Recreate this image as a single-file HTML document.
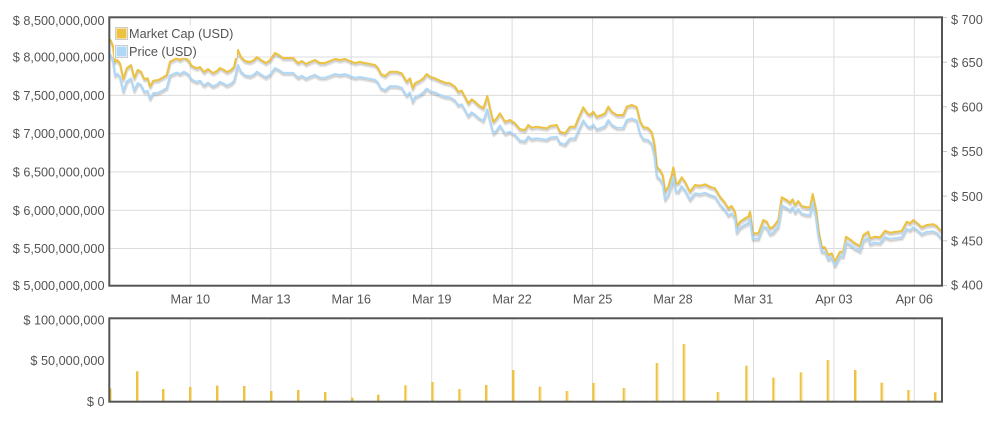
<!DOCTYPE html>
<html>
<head>
<meta charset="utf-8">
<style>
html,body{margin:0;padding:0;background:#fff;}
svg{display:block;}
text{font-family:"Liberation Sans",Arial,sans-serif;font-size:12.7px;fill:#545454;}
</style>
</head>
<body>
<svg width="999" height="425" viewBox="0 0 999 425" xmlns="http://www.w3.org/2000/svg">
<defs>
<clipPath id="pc"><rect x="110" y="18.3" width="831" height="266.4"/></clipPath>
<path id="g" d="M109.3,38.5 L111,41 L113,46 L115,61.7 L117.3,60 L120,63.3 L123.3,79 L126.7,68.3 L131,65 L134.3,78 L137.7,70 L141,71.7 L144.3,79 L147.7,78.3 L150,86.5 L153.3,80.7 L158.3,80 L163.3,77.3 L166.7,75 L170,61.7 L173.3,60 L176.7,58.3 L180,60 L184,57.5 L188,60 L192,66 L196.7,68.3 L200,67 L204,72 L208,69 L213,73 L217,71 L220,68 L224,70 L227,72 L231,70 L234,67 L238,50 L241,57 L245,61 L250,62 L254,60 L257,57 L261,60 L266,63 L270,60 L275,53 L279,55 L283,58 L288,58 L293,58 L298,63 L302,61 L306,64 L310,62 L315,60 L320,63 L325,63 L330,61 L335,59 L340,60 L345,59 L350,61 L355,63 L360,62 L365,63 L370,64 L375,65 L378,68 L381,74 L385,76 L390,71.7 L396.7,71.7 L401.7,73.3 L406.7,81.7 L410,78.3 L412.7,88.3 L415,83.3 L420,80.7 L423.3,78.3 L426.7,74 L430,76.7 L435,78.3 L440,80.7 L445,82.7 L450,83.3 L455,86.7 L458.3,91.7 L461.7,90.7 L465,96.7 L468.3,103.3 L471.7,99.3 L475,101.7 L478.3,105 L483.3,108.3 L487.3,96 L490,108.3 L493.3,121.7 L496.7,118.3 L500,113.3 L505,121.7 L510,120 L515,123.3 L520,129.3 L525,130 L528.3,125 L531.7,127.7 L536.7,126.7 L543.3,127.7 L546.7,128.3 L550,126 L556.7,125 L560,131.7 L565,133.3 L570,126.7 L575,126.7 L578.3,118.3 L583.3,107.3 L587.3,113.3 L590,115 L593.3,111.7 L596.7,116.7 L601.7,115 L605,113.3 L608.3,106.7 L611.7,111.7 L616.7,115 L623.3,115 L626.7,106.7 L631.7,105 L636.7,107 L640,121 L643.3,127 L648,128 L651.7,132 L654.5,145 L656.7,166.7 L660,170 L662.7,175 L665,191.7 L668.3,186.7 L671.7,175 L673.3,167.3 L676,183.3 L678.3,183.3 L681.7,177.3 L685,181.7 L690,191.7 L695,185 L700,185.7 L705,184.3 L710,186.7 L715,188.3 L720,196.7 L725,202.7 L728.3,208.3 L731.7,206 L735,211.7 L736.7,226.7 L740,221.7 L745,218.3 L748.3,216.7 L750,211.7 L752.7,233.3 L755,233.3 L758.3,233.3 L763.3,220 L766.7,221.7 L770,228.3 L773.3,226.7 L778.3,220 L781.7,197.3 L786.7,200 L790,202.7 L792.7,199.3 L795,205 L798.3,201 L801.7,206 L806.7,207.3 L810,207.3 L812.7,194 L816,210 L818.3,230 L821.7,246.7 L825,247.3 L828.3,255 L831.7,253.3 L835,261.7 L837.3,256.7 L840,251.7 L843.3,251.7 L846,236.7 L850,239.3 L855,243.3 L860,246 L863.3,235 L868.3,231.7 L870,238.3 L875,236.7 L880,237.3 L885,230.7 L890,232.7 L896.7,231.7 L901.7,231 L906.7,221.7 L910,223.3 L913.3,220 L918.3,224 L921.7,227.3 L926.7,225 L933.3,224.3 L936.7,226 L939.3,229 L941,231" fill="none" stroke-linejoin="round"/>
</defs>

<!-- main grid -->
<g stroke="#dcdcdc" stroke-width="1">
  <line x1="110" y1="57" x2="941" y2="57"/>
  <line x1="110" y1="95.4" x2="941" y2="95.4"/>
  <line x1="110" y1="133.6" x2="941" y2="133.6"/>
  <line x1="110" y1="171.9" x2="941" y2="171.9"/>
  <line x1="110" y1="210.2" x2="941" y2="210.2"/>
  <line x1="110" y1="248.5" x2="941" y2="248.5"/>
  <line x1="190.3" y1="18" x2="190.3" y2="285"/>
  <line x1="270.8" y1="18" x2="270.8" y2="285"/>
  <line x1="351.2" y1="18" x2="351.2" y2="285"/>
  <line x1="431.7" y1="18" x2="431.7" y2="285"/>
  <line x1="512.1" y1="18" x2="512.1" y2="285"/>
  <line x1="592.6" y1="18" x2="592.6" y2="285"/>
  <line x1="673" y1="18" x2="673" y2="285"/>
  <line x1="753.5" y1="18" x2="753.5" y2="285"/>
  <line x1="833.9" y1="18" x2="833.9" y2="285"/>
  <line x1="914.3" y1="18" x2="914.3" y2="285"/>
  <!-- volume grid -->
  <line x1="190.3" y1="319" x2="190.3" y2="401"/>
  <line x1="270.8" y1="319" x2="270.8" y2="401"/>
  <line x1="351.2" y1="319" x2="351.2" y2="401"/>
  <line x1="431.7" y1="319" x2="431.7" y2="401"/>
  <line x1="512.1" y1="319" x2="512.1" y2="401"/>
  <line x1="592.6" y1="319" x2="592.6" y2="401"/>
  <line x1="673" y1="319" x2="673" y2="401"/>
  <line x1="753.5" y1="319" x2="753.5" y2="401"/>
  <line x1="833.9" y1="319" x2="833.9" y2="401"/>
  <line x1="914.3" y1="319" x2="914.3" y2="401"/>
</g>
<!-- right ticks -->
<g stroke="#c8c8c8" stroke-width="1">
  <line x1="943" y1="17.5" x2="947" y2="17.5"/>
  <line x1="943" y1="62.2" x2="947" y2="62.2"/>
  <line x1="943" y1="106.8" x2="947" y2="106.8"/>
  <line x1="943" y1="151.5" x2="947" y2="151.5"/>
  <line x1="943" y1="196.2" x2="947" y2="196.2"/>
  <line x1="943" y1="240.8" x2="947" y2="240.8"/>
  <line x1="943" y1="285.5" x2="947" y2="285.5"/>
</g>

<!-- series -->
<g clip-path="url(#pc)">
  <g transform="translate(0.43,2.46)"><use href="#g" stroke="rgba(0,0,0,0.1)" stroke-width="3"/></g>
  <g transform="translate(0.3,1.72)"><use href="#g" stroke="rgba(0,0,0,0.1)" stroke-width="1.5"/></g>
  <use href="#g" stroke="#edc240" stroke-width="2"/>
  <g transform="translate(0.43,2.46)"><g transform="matrix(1,0.00569,0,0.931,0,17.14)"><path d="" /><use href="#g" stroke="rgba(0,0,0,0.1)" stroke-width="3" vector-effect="non-scaling-stroke"/></g></g>
  <g transform="translate(0.3,1.72)"><g transform="matrix(1,0.00569,0,0.931,0,17.14)"><use href="#g" stroke="rgba(0,0,0,0.1)" stroke-width="1.5" vector-effect="non-scaling-stroke"/></g></g>
  <g transform="matrix(1,0.00569,0,0.931,0,17.14)"><use href="#g" stroke="#afd8f8" stroke-width="2" vector-effect="non-scaling-stroke"/></g>
</g>

<!-- volume bars -->
<g>
  <g fill="#edc240">
    <rect x="109" y="388.3" width="2" height="13"/>
    <rect x="136" y="371.3" width="2" height="30"/>
    <rect x="162" y="389" width="2" height="12"/>
    <rect x="189" y="387" width="2" height="14"/>
    <rect x="216" y="385.7" width="2" height="15.3"/>
    <rect x="243" y="386" width="2" height="15"/>
    <rect x="270" y="391" width="2" height="10"/>
    <rect x="297" y="390" width="2" height="11"/>
    <rect x="324" y="392" width="2" height="9"/>
    <rect x="351" y="397.7" width="2" height="3.3"/>
    <rect x="377" y="394.7" width="2" height="6.3"/>
    <rect x="404.3" y="385.3" width="2" height="15.7"/>
    <rect x="431.3" y="382" width="2" height="19"/>
    <rect x="458.3" y="389" width="2" height="12"/>
    <rect x="485" y="385" width="2" height="16"/>
    <rect x="512" y="370" width="2" height="31"/>
    <rect x="538.7" y="386.7" width="2" height="14.3"/>
    <rect x="565.7" y="391" width="2" height="10"/>
    <rect x="592.3" y="383" width="2" height="18"/>
    <rect x="622.7" y="388" width="2" height="13"/>
    <rect x="655.7" y="363" width="2" height="38"/>
    <rect x="682.7" y="344" width="2" height="57"/>
    <rect x="716.7" y="392" width="2" height="9"/>
    <rect x="745.3" y="365.7" width="2" height="35.3"/>
    <rect x="772.3" y="377.7" width="2" height="23.3"/>
    <rect x="799.7" y="372.3" width="2" height="28.7"/>
    <rect x="826.7" y="360" width="2" height="41"/>
    <rect x="854" y="370" width="2" height="31"/>
    <rect x="880.5" y="382.7" width="2" height="18.3"/>
    <rect x="907.3" y="390" width="2" height="11"/>
    <rect x="934" y="392.3" width="2" height="8.7"/>
  </g>
  <g fill="#f7e3a3">
    <rect x="111" y="388.3" width="1" height="13"/>
    <rect x="138" y="371.3" width="1" height="30"/>
    <rect x="164" y="389" width="1" height="12"/>
    <rect x="191" y="387" width="1" height="14"/>
    <rect x="218" y="385.7" width="1" height="15.3"/>
    <rect x="245" y="386" width="1" height="15"/>
    <rect x="272" y="391" width="1" height="10"/>
    <rect x="299" y="390" width="1" height="11"/>
    <rect x="326" y="392" width="1" height="9"/>
    <rect x="353" y="397.7" width="1" height="3.3"/>
    <rect x="379" y="394.7" width="1" height="6.3"/>
    <rect x="406.3" y="385.3" width="1" height="15.7"/>
    <rect x="433.3" y="382" width="1" height="19"/>
    <rect x="460.3" y="389" width="1" height="12"/>
    <rect x="487" y="385" width="1" height="16"/>
    <rect x="514" y="370" width="1" height="31"/>
    <rect x="540.7" y="386.7" width="1" height="14.3"/>
    <rect x="567.7" y="391" width="1" height="10"/>
    <rect x="594.3" y="383" width="1" height="18"/>
    <rect x="624.7" y="388" width="1" height="13"/>
    <rect x="657.7" y="363" width="1" height="38"/>
    <rect x="684.7" y="344" width="1" height="57"/>
    <rect x="718.7" y="392" width="1" height="9"/>
    <rect x="747.3" y="365.7" width="1" height="35.3"/>
    <rect x="774.3" y="377.7" width="1" height="23.3"/>
    <rect x="801.7" y="372.3" width="1" height="28.7"/>
    <rect x="828.7" y="360" width="1" height="41"/>
    <rect x="856" y="370" width="1" height="31"/>
    <rect x="882.5" y="382.7" width="1" height="18.3"/>
    <rect x="909.3" y="390" width="1" height="11"/>
    <rect x="936" y="392.3" width="1" height="8.7"/>
  </g>
</g>

<!-- borders -->
<rect x="109.3" y="17.3" width="832.7" height="268.4" fill="none" stroke="#545454" stroke-width="2"/>
<rect x="109.3" y="318.3" width="832.7" height="83.4" fill="none" stroke="#545454" stroke-width="2"/>

<!-- legend -->
<rect x="114" y="25" width="123" height="33" fill="rgba(255,255,255,0.85)"/>
<rect x="115.5" y="27.5" width="12" height="12" fill="#fff" stroke="#cccccc" stroke-width="1"/>
<rect x="116.5" y="28.5" width="10" height="10" fill="#edc240"/>
<rect x="115.5" y="45.5" width="12" height="12" fill="#fff" stroke="#cccccc" stroke-width="1"/>
<rect x="116.5" y="46.5" width="10" height="10" fill="#afd8f8"/>
<text x="129" y="37.8">Market Cap (USD)</text>
<text x="129" y="55.8">Price (USD)</text>

<!-- left axis labels -->
<g text-anchor="end">
  <text x="104.5" y="25.1">$ 8,500,000,000</text>
  <text x="104.5" y="61.7">$ 8,000,000,000</text>
  <text x="104.5" y="99.9">$ 7,500,000,000</text>
  <text x="104.5" y="138.2">$ 7,000,000,000</text>
  <text x="104.5" y="176.5">$ 6,500,000,000</text>
  <text x="104.5" y="214.8">$ 6,000,000,000</text>
  <text x="104.5" y="253.1">$ 5,500,000,000</text>
  <text x="104.5" y="289.9">$ 5,000,000,000</text>
  <text x="104.5" y="324.6">$ 100,000,000</text>
  <text x="104.5" y="364.9">$ 50,000,000</text>
  <text x="104.5" y="405.8">$ 0</text>
</g>

<!-- right axis labels -->
<g>
  <text x="951" y="24.1">$ 700</text>
  <text x="951" y="66.8">$ 650</text>
  <text x="951" y="111.4">$ 600</text>
  <text x="951" y="156.1">$ 550</text>
  <text x="951" y="200.8">$ 500</text>
  <text x="951" y="245.4">$ 450</text>
  <text x="951" y="289.6">$ 400</text>
</g>

<!-- x labels -->
<g text-anchor="middle">
  <text x="190.3" y="303.4">Mar 10</text>
  <text x="270.8" y="303.4">Mar 13</text>
  <text x="351.2" y="303.4">Mar 16</text>
  <text x="431.7" y="303.4">Mar 19</text>
  <text x="512.1" y="303.4">Mar 22</text>
  <text x="592.6" y="303.4">Mar 25</text>
  <text x="673" y="303.4">Mar 28</text>
  <text x="753.5" y="303.4">Mar 31</text>
  <text x="833.9" y="303.4">Apr 03</text>
  <text x="914.3" y="303.4">Apr 06</text>
</g>
</svg>
</body>
</html>
